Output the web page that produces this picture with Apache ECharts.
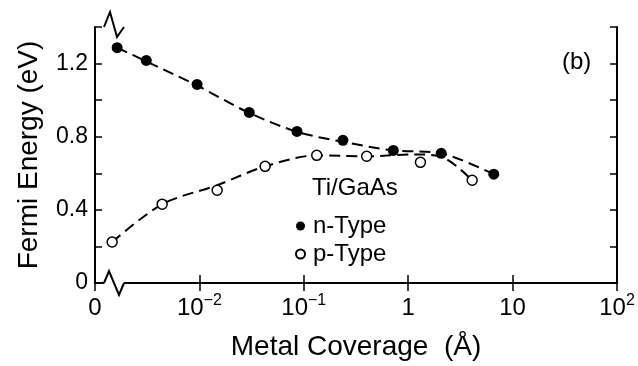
<!DOCTYPE html>
<html>
<head>
<meta charset="utf-8">
<script src="https://cdn.jsdelivr.net/npm/echarts@6/dist/echarts.min.js"></script>
<style>
  html, body { margin: 0; padding: 0; background: #fff; }
  #chart { width: 638px; height: 366px; }
</style>
</head>
<body>
<div id="chart"></div>
<script>
// 数据
const nX = [0.00163, 0.0031, 0.0095, 0.030, 0.086, 0.237, 0.72, 2.07, 6.6];
const nY = [1.287, 1.217, 1.086, 0.933, 0.829, 0.780, 0.725, 0.709, 0.595];
const pX = [0.00146, 0.0044, 0.0148, 0.0426, 0.133, 0.40, 1.31, 4.1];
const pY = [0.224, 0.431, 0.507, 0.638, 0.698, 0.693, 0.660, 0.562];
// 拟合虚线
const nFitX = [0.00163, 0.0031, 0.0095, 0.030, 0.086, 0.237, 0.72, 2.07, 6.6];
const nFitY = [1.287, 1.212, 1.08, 0.930, 0.827, 0.772, 0.725, 0.709, 0.595];
const pFitX = [0.00146, 0.0044, 0.0148, 0.0426, 0.133, 0.40, 1.15, 2.2, 4.1];
const pFitY = [0.224, 0.431, 0.535, 0.638, 0.698, 0.693, 0.703, 0.685, 0.562];
const yTicks = [0, 0.4, 0.8, 1.2];

const FONT = '"Liberation Sans", Arial, sans-serif';

function pairs(xs, ys) {
  return xs.map(function (x, i) { return [x, ys[i]]; });
}

function xLabel(v) {
  const e = Math.round(Math.log10(v));
  if (e === -3) return '{a|0}';
  if (e === 0) return '{a|1}';
  if (e === 1) return '{a|10}';
  return '{a|10}{b|' + (e < 0 ? '\u2212' + (-e) : e) + '}';
}

const myChart = echarts.init(document.getElementById('chart'));

const grid = { left: 95, right: 21, top: 27, bottom: 83 };

myChart.setOption({
  animation: false,
  textStyle: { fontFamily: FONT, color: '#000' },
  grid: grid,
  xAxis: [{
    type: 'log',
    logBase: 10,
    min: 0.001,
    max: 100,
    name: 'Metal Coverage  (Å)',
    nameLocation: 'middle',
    nameGap: 50,
    nameTextStyle: { fontSize: 28, fontFamily: FONT, color: '#000' },
    axisLine: { lineStyle: { color: '#000', width: 2 } },
    axisTick: { inside: true, length: 8, lineStyle: { color: '#000', width: 1.5 } },
    minorTick: { show: false },
    splitLine: { show: false },
    axisLabel: {
      margin: 10,
      formatter: xLabel,
      rich: {
        a: { fontSize: 24, lineHeight: 30, fontFamily: FONT, color: '#000' },
        b: { fontSize: 16, lineHeight: 16, verticalAlign: 'top', fontFamily: FONT, color: '#000' }
      }
    }
  }, {
    type: 'log',
    logBase: 10,
    min: 0.001,
    max: 100,
    position: 'top',
    axisLine: { lineStyle: { color: '#000', width: 2 } },
    axisTick: { inside: true, length: 8, lineStyle: { color: '#000', width: 1.5 } },
    axisLabel: { show: false },
    splitLine: { show: false }
  }],
  yAxis: [{
    type: 'value',
    min: 0,
    max: 1.4,
    interval: 0.2,
    name: 'Fermi Energy (eV)',
    nameLocation: 'middle',
    nameGap: 52,
    nameTextStyle: { fontSize: 28, fontFamily: FONT, color: '#000' },
    axisLine: { lineStyle: { color: '#000', width: 2 } },
    axisTick: { inside: true, length: 7, lineStyle: { color: '#000', width: 1.5 } },
    splitLine: { show: false },
    axisLabel: {
      margin: 7,
      fontSize: 23,
      color: '#000',
      formatter: function (v) {
        for (let i = 0; i < yTicks.length; i++) {
          if (Math.abs(v - yTicks[i]) < 1e-6) return v === 0 ? '0' : yTicks[i].toFixed(1);
        }
        return '';
      }
    }
  }, {
    type: 'value',
    min: 0,
    max: 1.4,
    interval: 0.2,
    position: 'right',
    axisLine: { show: true, lineStyle: { color: '#000', width: 2 } },
    axisTick: { show: true, inside: true, length: 7, lineStyle: { color: '#000', width: 1.5 } },
    axisLabel: { show: false },
    splitLine: { show: false }
  }],
  legend: {
    data: ['n-Type', 'p-Type'],
    orient: 'vertical',
    left: 290,
    top: 209,
    itemWidth: 9,
    itemHeight: 9,
    itemGap: 4,
    textStyle: { fontSize: 24, fontFamily: FONT, color: '#000', padding: [0, 0, 0, 3] }
  },
  series: [{
    name: 'n-fit',
    type: 'line',
    data: pairs(nFitX, nFitY),
    smooth: 0.3,
    symbol: 'none',
    lineStyle: { color: '#000', width: 2, type: [11, 6] },
    z: 2
  }, {
    name: 'p-fit',
    type: 'line',
    data: pairs(pFitX, pFitY),
    smooth: 0.3,
    symbol: 'none',
    lineStyle: { color: '#000', width: 2, type: [11, 6] },
    z: 2
  }, {
    name: 'n-Type',
    type: 'scatter',
    data: pairs(nX, nY),
    symbol: 'circle',
    symbolSize: 11,
    itemStyle: { color: '#000', opacity: 1 },
    z: 3
  }, {
    name: 'p-Type',
    type: 'scatter',
    data: pairs(pX, pY),
    symbol: 'circle',
    symbolSize: 10,
    itemStyle: { color: '#fff', borderColor: '#000', borderWidth: 1.5, opacity: 1 },
    z: 3
  }]
});

// 坐标轴断开符号 + 文字
const o = myChart.convertToPixel({ xAxisIndex: 0, yAxisIndex: 0 }, [0.001, 0]);
const t = myChart.convertToPixel({ xAxisIndex: 0, yAxisIndex: 0 }, [0.001, 1.4]);
const zig = { stroke: '#000', lineWidth: 2, fill: null };

myChart.setOption({
  graphic: [
    { type: 'rect', z: 100, shape: { x: o[0] + 9, y: t[1] - 4, width: 20, height: 8 }, style: { fill: '#fff' } },
    { type: 'polyline', z: 101, shape: { points: [[o[0] + 9, t[1]], [o[0] + 15, t[1] - 15], [o[0] + 22, t[1] + 10], [o[0] + 29, t[1]]] }, style: zig },
    { type: 'rect', z: 100, shape: { x: o[0] + 9, y: o[1] - 4, width: 20, height: 8 }, style: { fill: '#fff' } },
    { type: 'polyline', z: 101, shape: { points: [[o[0] + 9, o[1]], [o[0] + 14, o[1] - 12], [o[0] + 24, o[1] + 12], [o[0] + 29, o[1]]] }, style: zig },
    { type: 'text', z: 101, left: 312, top: 176, style: { text: 'Ti/GaAs', fontSize: 24, fontFamily: FONT, fill: '#000' } },
    { type: 'text', z: 101, left: 562, top: 50, style: { text: '(b)', fontSize: 24, fontFamily: FONT, fill: '#000' } }
  ]
});
</script>
</body>
</html>
